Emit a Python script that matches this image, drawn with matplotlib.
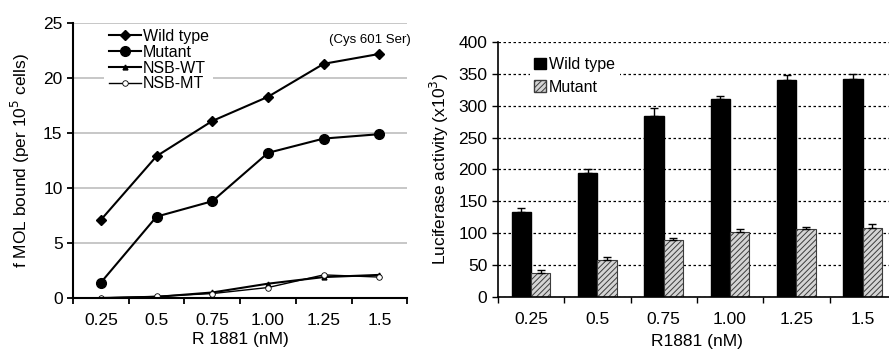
import matplotlib
matplotlib.use("Agg")
import matplotlib.pyplot as plt
from matplotlib.patches import Patch
import numpy as np

plt.rcParams['font.family'] = ['Liberation Sans', 'DejaVu Sans']
plt.rcParams['font.size'] = 12.5
plt.rcParams['hatch.linewidth'] = 0.7

doses = ['0.25', '0.5', '0.75', '1.00', '1.25', '1.5']

# left panel: f MOL bound (per 10^5 cells)
wild_bound = [7.1, 12.9, 16.1, 18.3, 21.3, 22.2]
mutant_bound = [1.4, 7.4, 8.8, 13.2, 14.5, 14.9]
nsb_wt = [0.0, 0.1, 0.5, 1.3, 1.9, 2.1]
nsb_mt = [0.0, 0.15, 0.4, 0.95, 2.1, 1.9]

# right panel: luciferase activity (x10^3)
wild_luc = [133, 195, 284, 310, 340, 342]
wild_err = [6, 5, 12, 6, 8, 8]
mutant_luc = [38, 58, 89, 102, 107, 108]
mutant_err = [4, 4, 3, 5, 2, 7]

fig = plt.figure(figsize=(8.89, 3.56), dpi=100)
x = np.arange(len(doses))

# ---- left panel ----
ax1 = fig.add_axes([0.0821, 0.163, 0.376, 0.772])
ax1.plot(x, wild_bound, color='black', lw=1.5, marker='D', ms=5, label='Wild type')
ax1.plot(x, mutant_bound, color='black', lw=1.5, marker='o', ms=7, label='Mutant')
ax1.plot(x, nsb_wt, color='black', lw=1.5, marker='^', ms=3.5, label='NSB-WT')
ax1.plot(x, nsb_mt, color='black', lw=1.0, marker='o', ms=4, mfc='white', mec='black',
         mew=0.6, label='NSB-MT')
ax1.set_xlim(-0.5, 5.5)
ax1.set_ylim(0, 25)
ax1.set_yticks([0, 5, 10, 15, 20, 25])
ax1.set_xticks(x)
ax1.set_xticklabels(doses)
ax1.set_xticks(np.arange(-0.5, 6, 1), minor=True)
ax1.tick_params(axis='x', which='major', length=0, pad=11)
ax1.tick_params(axis='x', which='minor', length=4, width=1.3)
ax1.tick_params(axis='y', length=4, width=1.3)
ax1.yaxis.grid(True, color='#bdbdbd', lw=1.2)
ax1.set_axisbelow(True)
for s in ['top', 'right']:
    ax1.spines[s].set_visible(False)
for s in ['left', 'bottom']:
    ax1.spines[s].set_linewidth(1.5)
ax1.set_ylabel('f MOL bound (per 10$^5$ cells)', labelpad=8)
ax1.set_xlabel('R 1881 (nM)', labelpad=3)
ax1.legend(loc='upper left', bbox_to_anchor=(0.07, 1.025), frameon=True,
           fancybox=False, edgecolor='none', facecolor='white', framealpha=1,
           handlelength=2.0, handletextpad=0.1, labelspacing=0.05,
           borderpad=0.3, fontsize=11.5)
ax1.text(1.01, 0.96, '(Cys 601 Ser)', transform=ax1.transAxes, ha='right', va='top',
         fontsize=9.5, bbox=dict(facecolor='white', edgecolor='none', pad=1))

# ---- right panel ----
ax2 = fig.add_axes([0.560, 0.166, 0.4477, 0.716])
bw = 0.29
ax2.bar(x - bw / 2, wild_luc, bw, color='black', edgecolor='black',
        yerr=[[0] * 6, wild_err], error_kw=dict(ecolor='black', capsize=3, elinewidth=1, capthick=1))
ax2.bar(x + bw / 2, mutant_luc, bw, color='#d4d4d4', edgecolor='#3c3c3c', hatch='//////', lw=0.8,
        yerr=[[0] * 6, mutant_err], error_kw=dict(ecolor='black', capsize=3, elinewidth=1, capthick=1))
ax2.set_xlim(-0.5, 5.5)
ax2.set_ylim(0, 400)
ax2.set_yticks(range(0, 401, 50))
ax2.set_xticks(x)
ax2.set_xticklabels(doses)
ax2.set_xticks(np.arange(-0.5, 6, 1), minor=True)
ax2.tick_params(axis='x', which='major', length=0, pad=11)
ax2.tick_params(axis='x', which='minor', length=4, width=1)
ax2.tick_params(axis='y', length=4, width=1)
ax2.yaxis.grid(True, color='black', lw=0.9, ls=(0, (2, 2)))
ax2.set_axisbelow(True)
for s in ['top', 'right']:
    ax2.spines[s].set_visible(False)
for s in ['left', 'bottom']:
    ax2.spines[s].set_linewidth(1.2)
ax2.set_ylabel('Luciferase activity (x10$^3$)', labelpad=5)
ax2.set_xlabel('R1881 (nM)', labelpad=5)
handles = [Patch(facecolor='black', edgecolor='black', label='Wild type'),
           Patch(facecolor='#d4d4d4', edgecolor='#3c3c3c', hatch='//////', label='Mutant')]
ax2.legend(handles=handles, loc='upper left', bbox_to_anchor=(0.06, 0.99), frameon=True,
           fancybox=False, edgecolor='none', facecolor='white', framealpha=1,
           handlelength=0.7, handleheight=0.7, handletextpad=0.2, labelspacing=0.45,
           borderpad=0.3, fontsize=11.5)

fig.savefig('out.png', dpi=100)
